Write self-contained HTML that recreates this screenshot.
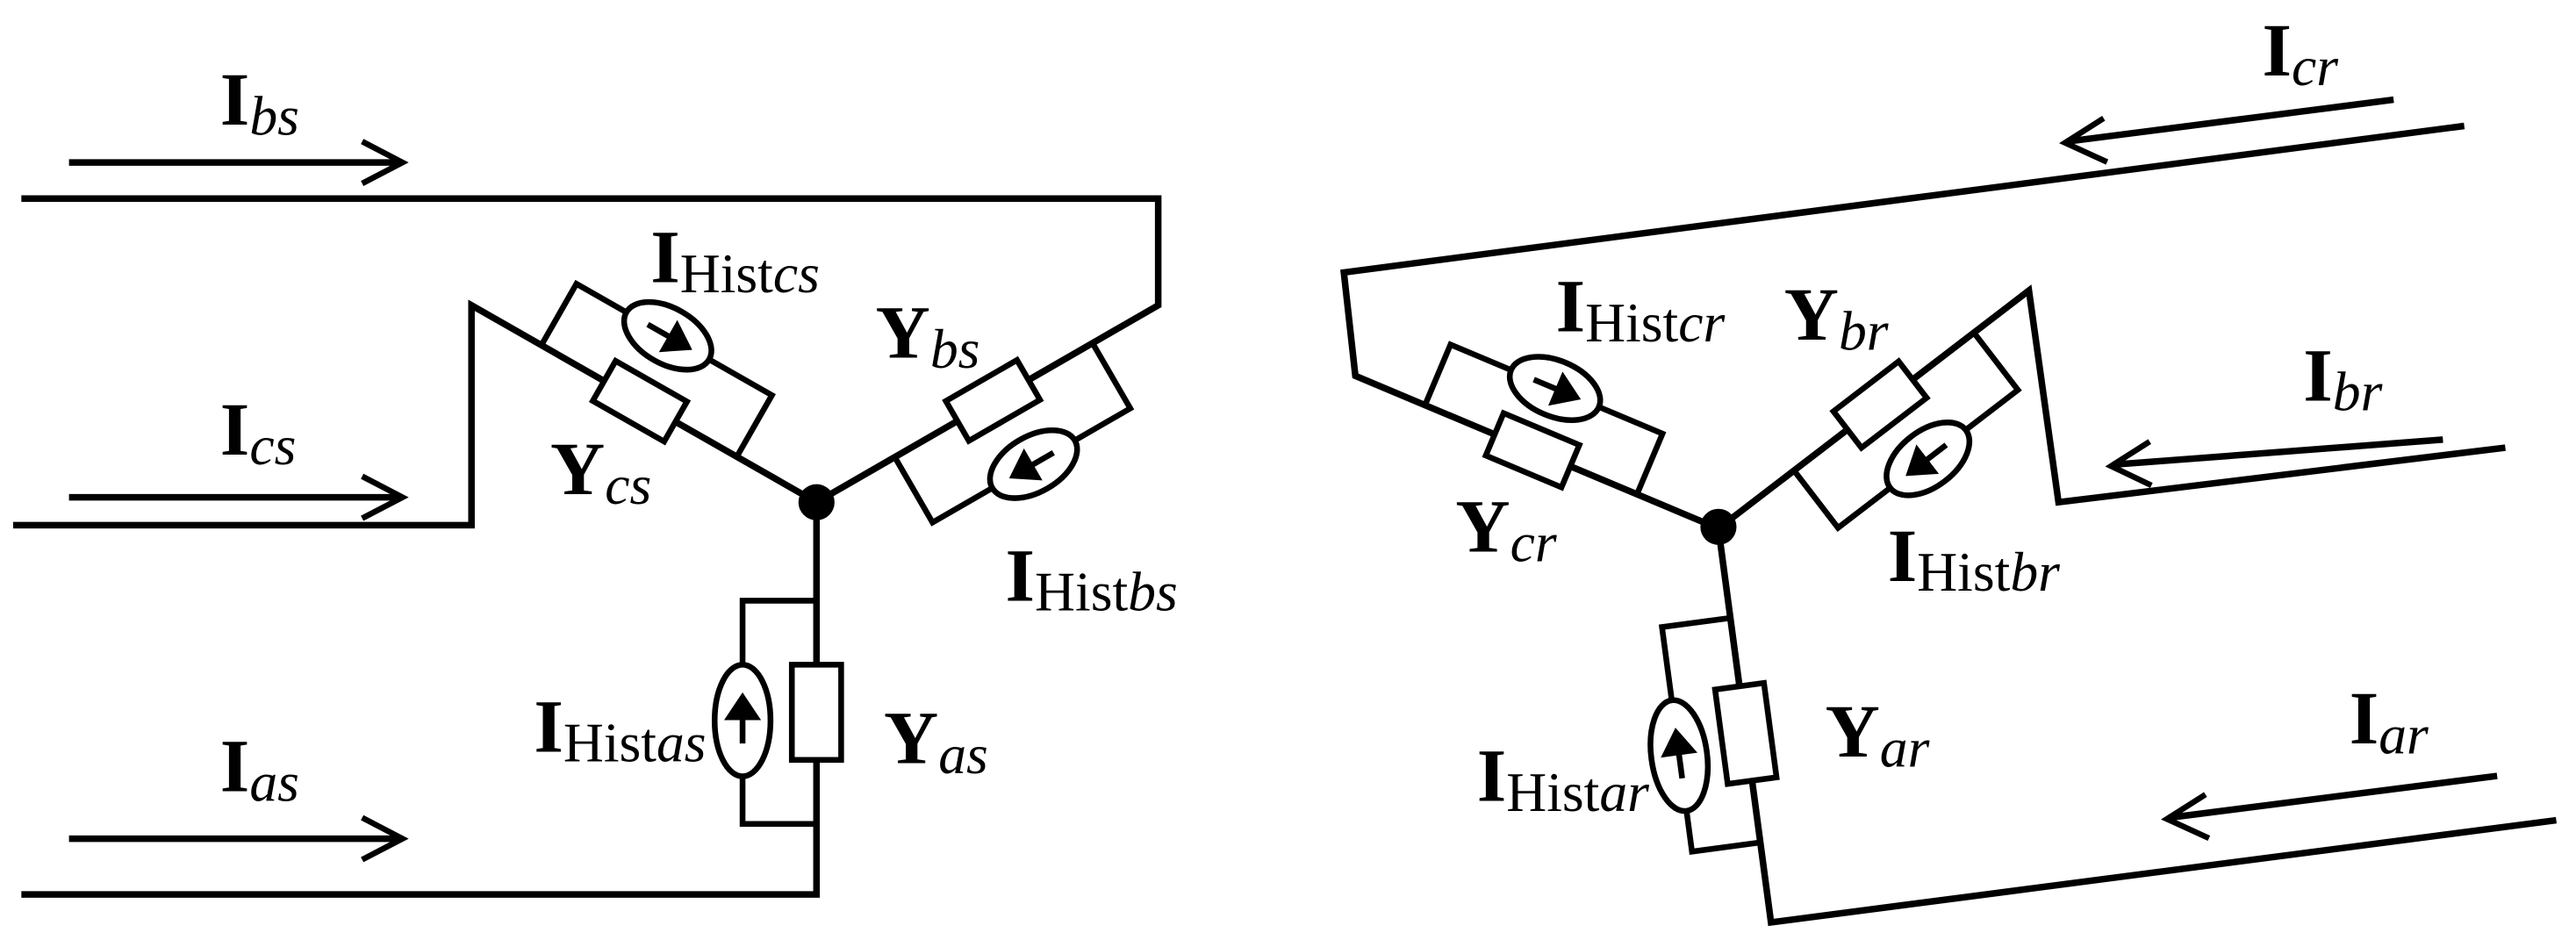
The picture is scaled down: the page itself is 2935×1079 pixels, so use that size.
<!DOCTYPE html>
<html><head><meta charset="utf-8"><style>html,body{margin:0;padding:0;background:#fff}svg{display:block}
.t{font-family:"Liberation Serif","DejaVu Serif",serif;font-size:46px;font-weight:bold;fill:#000}
.s{font-size:34px;font-weight:normal}
.i{font-style:italic}
</style></head>
<body>
<svg width="2935" height="1079" viewBox="0 0 1568 577" preserveAspectRatio="none" xmlns="http://www.w3.org/2000/svg">
<defs>
<g id="arrP"><line x1="-14" y1="0" x2="5" y2="0" stroke="#000" stroke-width="3.5"/><path d="M14 0 L2 -8 L2 8 Z" fill="#000"/></g>
<g id="arrN"><line x1="14" y1="0" x2="-5" y2="0" stroke="#000" stroke-width="3.5"/><path d="M-14 0 L-2 -8 L-2 8 Z" fill="#000"/></g>
</defs>
<g fill="none" stroke="#000" stroke-width="4" stroke-linejoin="miter" stroke-linecap="square">
<polyline points="15,121 705,121 705,186 497,306"/>
<polyline points="10,320 287,320 287,186 497,306"/>
<polyline points="15,545 497,545 497,306"/>
<line x1="44" y1="99" x2="243" y2="99"/><polyline points="222,87 245,99 222,111" stroke-width="3.5"/>
<line x1="44" y1="303" x2="243" y2="303"/><polyline points="222,291 245,303 222,315" stroke-width="3.5"/>
<line x1="44" y1="511" x2="243" y2="511"/><polyline points="222,499 245,511 222,523" stroke-width="3.5"/>
<polyline points="1498,77 818,166 825,229 1046,322"/>
<polyline points="1523,273 1253,306 1235,177 1046,322"/>
<polyline points="1554,500 1078,562 1046,322"/>
<line x1="1455" y1="61" x2="1260" y2="86"/><polyline points="1279,73 1257,87 1281,98" stroke-width="3.5"/>
<line x1="1485" y1="268" x2="1288" y2="283"/><polyline points="1307,270 1285,284 1308,295" stroke-width="3.5"/>
<line x1="1518" y1="473" x2="1322" y2="498"/><polyline points="1341,485 1319,499 1343,510" stroke-width="3.5"/>
</g>
<g stroke="#000" stroke-width="3.5" fill="none">
<g transform="translate(287,186) rotate(29.7)">
<path d="M49 0 L49 -43 L186 -43 L186 0"/>
<rect x="93" y="-14" width="50" height="28" fill="#fff"/>
<ellipse cx="113" cy="-43" rx="29" ry="17" fill="#fff"/>
<use href="#arrP" x="113" y="-43"/>
</g>
<g transform="translate(497,306) rotate(-30)">
<path d="M55 0 L55 46 L194 46 L194 0"/>
<rect x="99" y="-14" width="50" height="28" fill="#fff"/>
<ellipse cx="126" cy="46" rx="29" ry="17" fill="#fff"/>
<use href="#arrN" x="126" y="46"/>
</g>
<g transform="translate(497,306) rotate(90)">
<path d="M60 0 L60 45 L196 45 L196 0"/>
<rect x="99" y="-15" width="58" height="30" fill="#fff"/>
<ellipse cx="133" cy="45" rx="34" ry="17" fill="#fff"/>
<use href="#arrN" x="133" y="45"/>
</g>
<g transform="translate(825,229) rotate(22.8)">
<path d="M46 0 L46 -40 L186 -40 L186 0"/>
<rect x="92" y="-14" width="50" height="28" fill="#fff"/>
<ellipse cx="115" cy="-40" rx="29" ry="17" fill="#fff"/>
<use href="#arrP" x="115" y="-40"/>
</g>
<g transform="translate(1046,322) rotate(-37.5)">
<path d="M58 0 L58 44 L196 44 L196 0"/>
<rect x="99" y="-14" width="50" height="28" fill="#fff"/>
<ellipse cx="127" cy="44" rx="29" ry="17" fill="#fff"/>
<use href="#arrN" x="127" y="44"/>
</g>
<g transform="translate(1046,322) rotate(82.4)">
<path d="M55 0 L55 42 L193 42 L193 0"/>
<rect x="97" y="-15" width="58" height="30" fill="#fff"/>
<ellipse cx="134" cy="42" rx="34" ry="17" fill="#fff"/>
<use href="#arrN" x="134" y="42"/>
</g>
</g>
<circle cx="497" cy="306" r="11" fill="#000"/>
<circle cx="1046" cy="321" r="11" fill="#000"/>
<g class="t">
<text x="134" y="76">I<tspan class="s i" dy="6">bs</tspan></text>
<text x="134" y="277">I<tspan class="s i" dy="6">cs</tspan></text>
<text x="134" y="482">I<tspan class="s i" dy="6">as</tspan></text>
<text x="396" y="172">I<tspan class="s" dy="6">Hist<tspan class="i">cs</tspan></tspan></text>
<text x="533" y="218">Y<tspan class="s i" dy="6">bs</tspan></text>
<text x="335" y="301">Y<tspan class="s i" dy="6">cs</tspan></text>
<text x="612" y="366">I<tspan class="s" dy="6">Hist<tspan class="i">bs</tspan></tspan></text>
<text x="325" y="458">I<tspan class="s" dy="6">Hist<tspan class="i">as</tspan></tspan></text>
<text x="538" y="465">Y<tspan class="s i" dy="6">as</tspan></text>
<text x="1377" y="46">I<tspan class="s i" dy="6">cr</tspan></text>
<text x="947" y="202">I<tspan class="s" dy="6">Hist<tspan class="i">cr</tspan></tspan></text>
<text x="1086" y="207">Y<tspan class="s i" dy="6">br</tspan></text>
<text x="1402" y="244">I<tspan class="s i" dy="6">br</tspan></text>
<text x="886" y="336">Y<tspan class="s i" dy="6">cr</tspan></text>
<text x="1149" y="354">I<tspan class="s" dy="6">Hist<tspan class="i">br</tspan></tspan></text>
<text x="1111" y="461">Y<tspan class="s i" dy="6">ar</tspan></text>
<text x="1430" y="453">I<tspan class="s i" dy="6">ar</tspan></text>
<text x="899" y="488">I<tspan class="s" dy="6">Hist<tspan class="i">ar</tspan></tspan></text>
</g>
</svg>
</body></html>
